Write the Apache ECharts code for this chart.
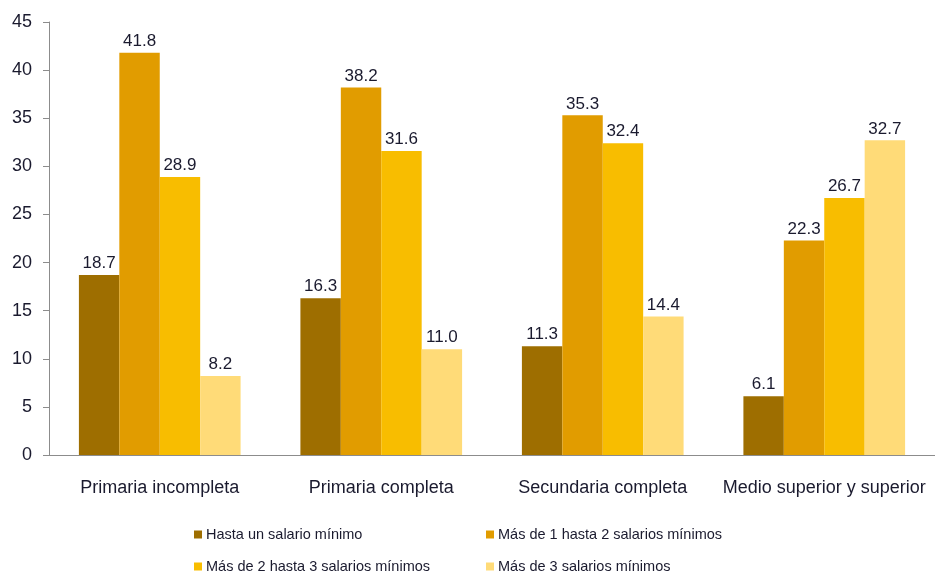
<!DOCTYPE html>
<html>
<head>
<meta charset="utf-8">
<script src="https://cdn.jsdelivr.net/npm/echarts@6/dist/echarts.min.js"></script>
<style>
  html, body { margin: 0; padding: 0; background: #fff; }
  #chart { width: 935px; height: 576px; }
</style>
</head>
<body>
<div id="chart"></div>
<script>
// Education levels on the category axis
const categories = ['Primaria incompleta', 'Primaria completa', 'Secundaria completa', 'Medio superior y superior'];

// Income brackets (percent of population per education level)
const seriesNames = [
  'Hasta un salario mínimo',
  'Más de 1 hasta 2 salarios mínimos',
  'Más de 2 hasta 3 salarios mínimos',
  'Más de 3 salarios mínimos'
];
const hastaUno   = [18.7, 16.3, 11.3, 6.1];
const unoADos    = [41.8, 38.2, 35.3, 22.3];
const dosATres   = [28.9, 31.6, 32.4, 26.7];
const masDeTres  = [8.2, 11.0, 14.4, 32.7];

// Y axis ticks
const yMin = 0, yMax = 45, yStep = 5;

const colors = ['#9E6E00', '#E19C00', '#F8BD00', '#FFDB78'];
const values = [hastaUno, unoADos, dosATres, masDeTres];
const font = 'Arial, "Liberation Sans", sans-serif';
const textColor = '#1a1a2e';

const chart = echarts.init(document.getElementById('chart'), null, { renderer: 'canvas' });

const series = seriesNames.map((name, i) => ({
  name: name,
  type: 'bar',
  data: values[i],
  barGap: '0%',
  barCategoryGap: '27%',
  itemStyle: { color: colors[i] },
  label: {
    show: true,
    position: 'top',
    distance: 3,
    formatter: p => p.value.toFixed(1),
    fontFamily: font,
    fontSize: 17,
    color: textColor
  }
}));

// Legend laid out as a 2x2 grid
const legendPos = [
  { left: 194, top: 527 },
  { left: 486, top: 527 },
  { left: 194, top: 559 },
  { left: 486, top: 559 }
];
const legends = seriesNames.map((name, i) => ({
  data: [name],
  left: legendPos[i].left,
  top: legendPos[i].top,
  padding: 0,
  itemWidth: 8,
  itemHeight: 8,
  itemGap: 0,
  icon: 'rect',
  selectedMode: false,
  textStyle: { fontFamily: font, fontSize: 14.5, color: textColor, padding: [0, 0, 0, -1] }
}));

chart.setOption({
  animation: false,
  color: colors,
  legend: legends,
  grid: { left: 49, top: 22, width: 896, height: 433, containLabel: false },
  xAxis: {
    type: 'category',
    data: categories,
    axisLine: { lineStyle: { color: '#8c8c8c', width: 1 } },
    axisTick: { show: false },
    axisLabel: { fontFamily: font, fontSize: 18, color: textColor, margin: 24, interval: 0 }
  },
  yAxis: {
    type: 'value',
    min: yMin,
    max: yMax,
    interval: yStep,
    splitLine: { show: false },
    axisLine: { show: true, lineStyle: { color: '#8c8c8c', width: 1 } },
    axisTick: { show: true, length: 6, lineStyle: { color: '#8c8c8c' } },
    axisLabel: { fontFamily: font, fontSize: 18, color: textColor, margin: 17 }
  },
  series: series
});
</script>
</body>
</html>
